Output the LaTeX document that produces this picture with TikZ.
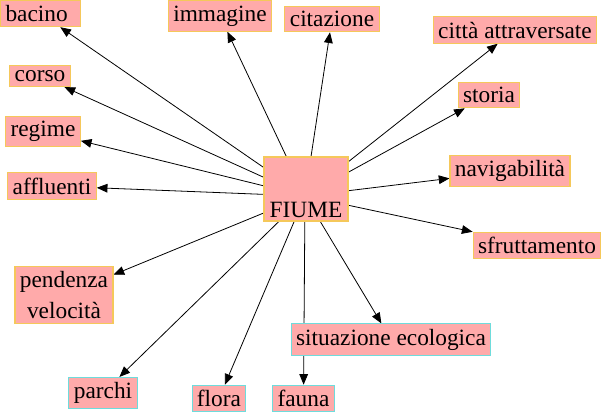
\documentclass[tikz,border=0pt]{standalone}
\usepackage{fontspec}
\setmainfont{Liberation Serif}
\usetikzlibrary{arrows.meta,backgrounds}
\definecolor{boxpink}{RGB}{255,170,170}
\definecolor{boxgold}{RGB}{245,200,90}
\definecolor{boxcyan}{RGB}{110,220,220}

\begin{document}
\begin{tikzpicture}[x=0.75pt,y=-0.75pt,every node/.style={font=\fontsize{17.5}{23}\selectfont},
 topic/.style={draw=boxgold,fill=boxpink,line width=0.8pt,inner sep=3.7pt},
 topicc/.style={topic,draw=boxcyan},
 link/.style={-{Triangle[length=8pt,width=6.5pt]},line width=0.6pt}]
 \useasboundingbox (0,0) rectangle (604,412);
 \node[topic,minimum width=63pt,text height=42pt,text depth=0pt,inner ysep=3pt] (fiume) at (306,189) {FIUME};
 \node[topic,text width=52.5pt,align=left] (bacino) at (40.5,13.5) {bacino};
 \node[topic] (immagine) at (220,16) {immagine};
 \node[topic] (citazione) at (332,19) {citazione};
 \node[topic] (citta) at (515,30) {città attraversate};
 \node[topic] (corso) at (40,76) {corso};
 \node[topic] (storia) at (489,95) {storia};
 \node[topic] (regime) at (43,131.5) {regime};
 \node[topic] (navig) at (510,171) {navigabilità};
 \node[topic] (affluenti) at (52,186) {affluenti};
 \node[topic] (sfrutt) at (537,245.5) {sfruttamento};
 \node[topic,align=center] (pendenza) at (64,295) {pendenza\\velocità};
 \node[topicc] (ecologia) at (391,339.5) {situazione ecologica};
 \node[topicc] (parchi) at (103,393) {parchi};
 \node[topicc] (flora) at (219,398.5) {flora};
 \node[topicc] (fauna) at (303.5,398.5) {fauna};
 \coordinate (hub) at (305,196);
 \begin{scope}[on background layer]
  \foreach \t in {bacino,immagine,citazione,citta,corso,storia,regime,navig,affluenti,sfrutt,pendenza,ecologia,parchi,flora,fauna}
   \draw[link] (hub) -- (\t);
 \end{scope}
\end{tikzpicture}
\end{document}
